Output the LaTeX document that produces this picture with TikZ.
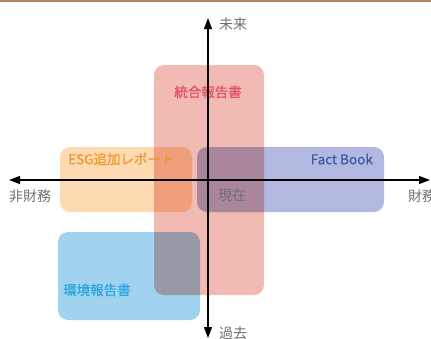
\documentclass[tikz,border=0pt]{standalone}
\usepackage{fontspec}
\setmainfont{Noto Sans CJK JP}
\newfontfamily\titlefont[FakeBold=0.6]{Noto Sans CJK JP}
\usetikzlibrary{arrows.meta}
\definecolor{topline}{HTML}{B08868}
\definecolor{redbox}{HTML}{F1BAB2}
\definecolor{orangebox}{HTML}{FDDAB2}
\definecolor{bluebox}{HTML}{B3B8E0}
\definecolor{skybox}{HTML}{A1D2F0}
\definecolor{redtext}{HTML}{E0505E}
\definecolor{orangetext}{HTML}{F3952A}
\definecolor{bluetext}{HTML}{3A5BA8}
\definecolor{skytext}{HTML}{2AA6E0}
\definecolor{labelgray}{HTML}{707070}
\tikzset{
  area/.style={rounded corners=10pt, blend mode=multiply},
  title/.style={inner sep=0pt, font=\titlefont\fontsize{13.5}{14}\selectfont},
  axislabel/.style={inner sep=0pt, text=labelgray, font=\fontsize{14}{15}\selectfont},
  axis/.style={line width=1.1pt, -{Triangle[length=11pt,width=8pt]}},
}
\begin{document}
\begin{tikzpicture}[x=1pt,y=-1pt]
\useasboundingbox (0,0) rectangle (431,338);
\fill[topline] (0,0) rectangle (431,1.5);
% areas
\fill[area, orangebox] (60,147) rectangle (192,212);
\fill[area, redbox] (154,65) rectangle (264,295);
\fill[area, bluebox] (197,147) rectangle (384,212);
\fill[area, skybox] (58,232) rectangle (200,320);
% area titles
\node[title, text=redtext] (integ) at (208,92) {統合報告書};
\node[title, text=orangetext, anchor=west] (esg) at (68,159) {ESG追加レポート};
\node[title, text=bluetext, anchor=east] (fact) at (373,159) {Fact Book};
\node[title, text=skytext, anchor=west] (env) at (63,290) {環境報告書};
% axes
\coordinate (center) at (208,180);
\coordinate (top) at (208,18);
\coordinate (bottom) at (208,338);
\coordinate (left) at (9,180);
\coordinate (right) at (430,180);
\draw[axis] (center) -- (top);
\draw[axis] (center) -- (bottom);
\draw[axis] (center) -- (left);
\draw[axis] (center) -- (right);
% axis labels
\node[axislabel, anchor=west] (future) at (219,24) {未来};
\node[axislabel, anchor=west] (past) at (219,333) {過去};
\node[axislabel, anchor=west] (nonfin) at (9,196) {非財務};
\node[axislabel, anchor=west] (fin) at (408,196) {財務};
\node[axislabel, anchor=west] (now) at (218,195) {現在};
\end{tikzpicture}
\end{document}
